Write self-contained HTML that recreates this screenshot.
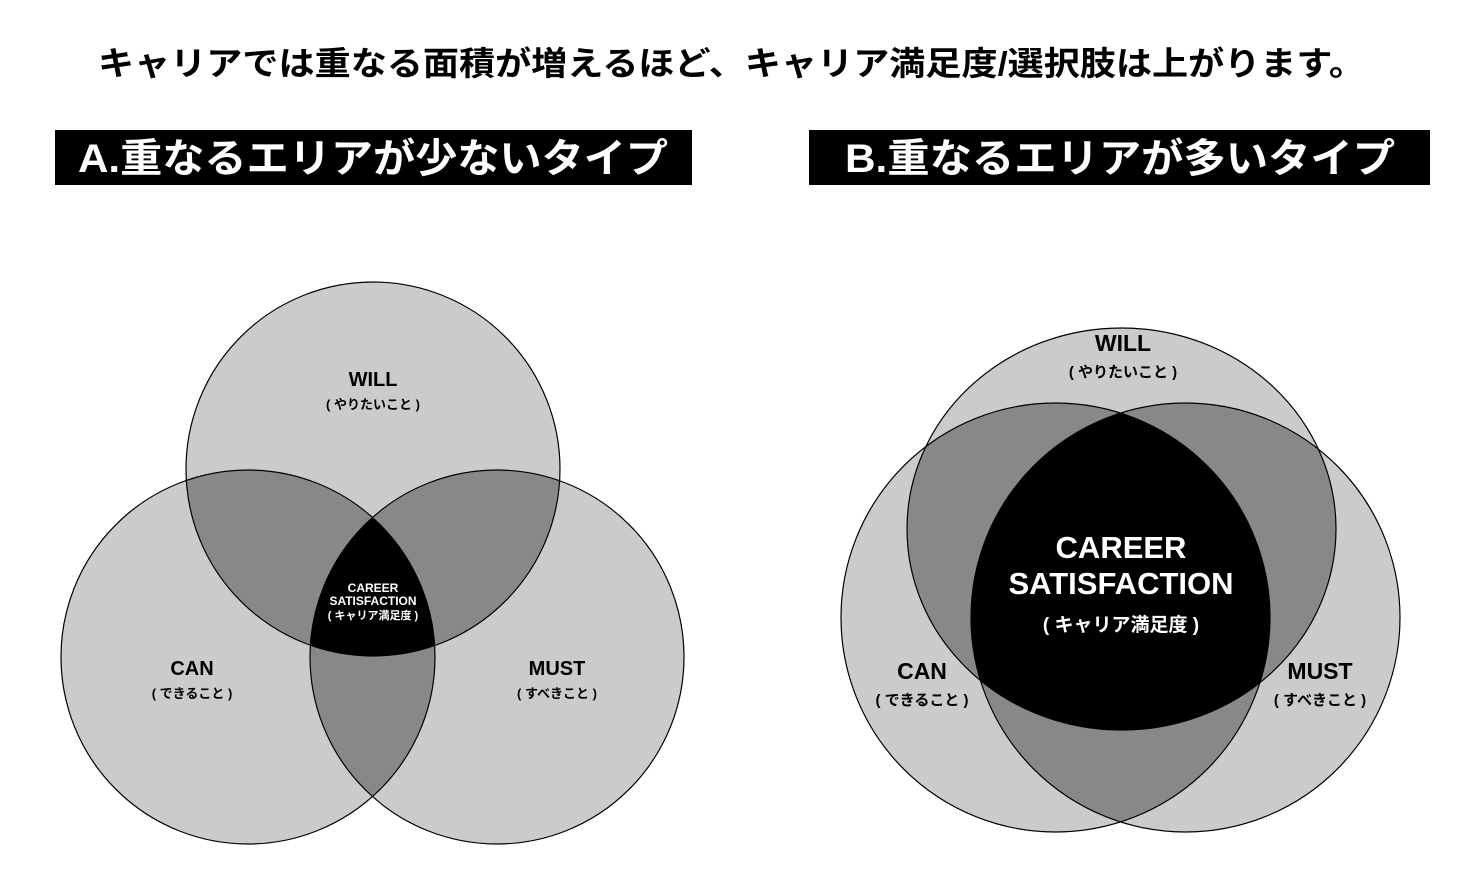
<!DOCTYPE html>
<html><head><meta charset="utf-8"><style>
html,body{margin:0;padding:0;background:#fff;width:1476px;height:872px;overflow:hidden}
svg{display:block}
text{font-family:"Liberation Sans","Noto Sans CJK JP",sans-serif;font-weight:bold}
</style></head><body>
<svg width="1476" height="872" viewBox="0 0 1476 872">
<defs>
<clipPath id="aW"><circle cx="373" cy="469" r="187"/></clipPath>
<clipPath id="aC"><circle cx="248" cy="657" r="187"/></clipPath>
<clipPath id="bW"><ellipse cx="1121.5" cy="529" rx="214.5" ry="201"/></clipPath>
<clipPath id="bC"><circle cx="1055.5" cy="617.5" r="214.5"/></clipPath>
</defs>
<text x="98" y="75" font-size="33" textLength="1267" lengthAdjust="spacingAndGlyphs" fill="#000">キャリアでは重なる面積が増えるほど、キャリア満足度/選択肢は上がります。</text>
<rect x="55" y="130" width="637" height="55" fill="#000"/>
<text x="78" y="172" font-size="40" textLength="590" lengthAdjust="spacingAndGlyphs" fill="#fff">A.重なるエリアが少ないタイプ</text>
<rect x="809" y="130" width="621" height="55" fill="#000"/>
<text x="845" y="172" font-size="40" textLength="550" lengthAdjust="spacingAndGlyphs" fill="#fff">B.重なるエリアが多いタイプ</text>

<!-- A -->
<circle cx="373" cy="469" r="187" fill="#cbcbcb"/>
<circle cx="248" cy="657" r="187" fill="#cbcbcb"/>
<circle cx="497" cy="657" r="187" fill="#cbcbcb"/>
<g clip-path="url(#aW)"><circle cx="248" cy="657" r="187" fill="#888"/><circle cx="497" cy="657" r="187" fill="#888"/></g>
<g clip-path="url(#aC)"><circle cx="497" cy="657" r="187" fill="#888"/></g>
<g clip-path="url(#aW)"><g clip-path="url(#aC)"><circle cx="497" cy="657" r="187" fill="#000"/></g></g>
<g fill="none" stroke="#000" stroke-width="1.2">
<circle cx="373" cy="469" r="187"/><circle cx="248" cy="657" r="187"/><circle cx="497" cy="657" r="187"/></g>
<text x="373" y="386" font-size="20" text-anchor="middle">WILL</text>
<text x="373" y="409" font-size="13" text-anchor="middle">( やりたいこと )</text>
<text x="192" y="675" font-size="20" text-anchor="middle">CAN</text>
<text x="192" y="698" font-size="13" text-anchor="middle">( できること )</text>
<text x="557" y="675" font-size="20" text-anchor="middle">MUST</text>
<text x="557" y="698" font-size="13" text-anchor="middle">( すべきこと )</text>
<text x="373" y="592" font-size="12" text-anchor="middle" fill="#fff">CAREER</text>
<text x="373" y="605" font-size="12" text-anchor="middle" fill="#fff">SATISFACTION</text>
<text x="373" y="619" font-size="11" text-anchor="middle" fill="#fff">( キャリア満足度 )</text>

<!-- B -->
<ellipse cx="1121.5" cy="529" rx="214.5" ry="201" fill="#cbcbcb"/>
<circle cx="1055.5" cy="617.5" r="214.5" fill="#cbcbcb"/>
<circle cx="1185.5" cy="617.5" r="214.5" fill="#cbcbcb"/>
<g clip-path="url(#bW)"><circle cx="1055.5" cy="617.5" r="214.5" fill="#888"/><circle cx="1185.5" cy="617.5" r="214.5" fill="#888"/></g>
<g clip-path="url(#bC)"><circle cx="1185.5" cy="617.5" r="214.5" fill="#888"/></g>
<g clip-path="url(#bW)"><g clip-path="url(#bC)"><circle cx="1185.5" cy="617.5" r="214.5" fill="#000"/></g></g>
<g fill="none" stroke="#000" stroke-width="1.2">
<ellipse cx="1121.5" cy="529" rx="214.5" ry="201"/><circle cx="1055.5" cy="617.5" r="214.5"/><circle cx="1185.5" cy="617.5" r="214.5"/></g>
<text x="1123" y="351" font-size="23" text-anchor="middle">WILL</text>
<text x="1123" y="377" font-size="15" text-anchor="middle">( やりたいこと )</text>
<text x="922" y="679" font-size="23" text-anchor="middle">CAN</text>
<text x="922" y="705" font-size="15" text-anchor="middle">( できること )</text>
<text x="1320" y="679" font-size="23" text-anchor="middle">MUST</text>
<text x="1320" y="705" font-size="15" text-anchor="middle">( すべきこと )</text>
<text x="1121" y="558" font-size="31" text-anchor="middle" fill="#fff">CAREER</text>
<text x="1121" y="594" font-size="31" text-anchor="middle" fill="#fff">SATISFACTION</text>
<text x="1121" y="631" font-size="19" text-anchor="middle" fill="#fff">( キャリア満足度 )</text>
</svg>
</body></html>
